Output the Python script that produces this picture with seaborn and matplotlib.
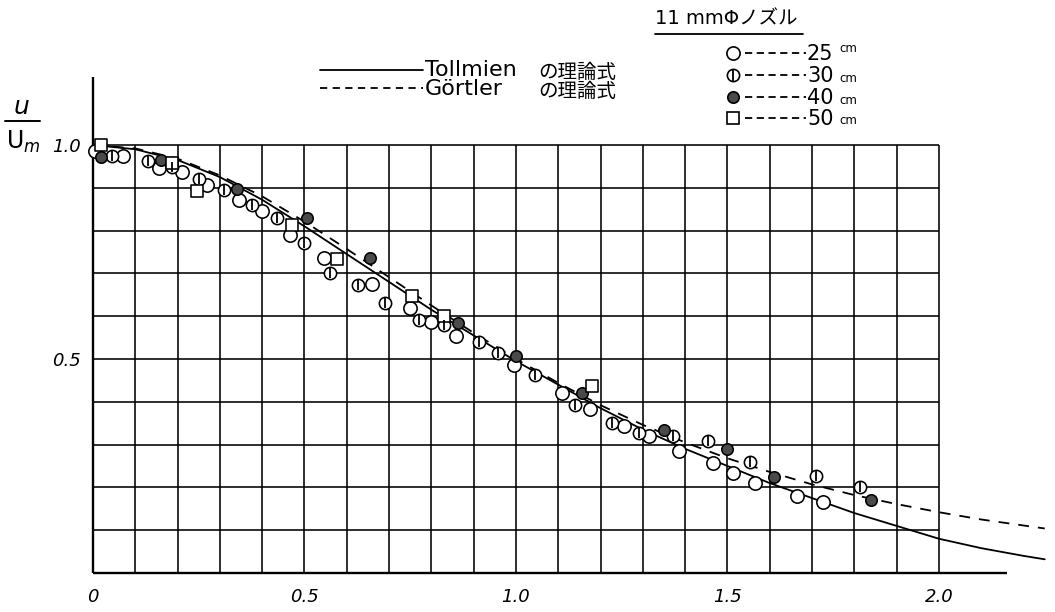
import matplotlib
matplotlib.use("Agg")
import numpy as np
import pandas as pd
import matplotlib.pyplot as plt
from matplotlib.lines import Line2D
import seaborn as sns

# Theoretical velocity profiles u/Um against r / r_half
curve_x = [0.0, 0.1, 0.2, 0.3, 0.4, 0.5, 0.6, 0.7, 0.8, 0.9, 1.0, 1.1, 1.2,
           1.3, 1.4, 1.5, 1.6, 1.7, 1.8, 1.9, 2.0, 2.1, 2.2, 2.25]
tollmien_y = [1.0, 0.99, 0.965, 0.925, 0.872, 0.81, 0.745, 0.68, 0.615, 0.555,
              0.495, 0.44, 0.385, 0.335, 0.29, 0.25, 0.21, 0.175, 0.14, 0.11,
              0.08, 0.058, 0.04, 0.032]
goertler_y = [1.0, 0.992, 0.968, 0.929, 0.88, 0.821, 0.757, 0.691, 0.625, 0.561,
              0.5, 0.444, 0.392, 0.346, 0.305, 0.268, 0.236, 0.207, 0.182, 0.161,
              0.142, 0.125, 0.111, 0.104]

# Measured points, 11 mm nozzle, by distance from the nozzle exit
x_25cm = [0.005, 0.07, 0.156, 0.21, 0.27, 0.345, 0.40, 0.466, 0.545, 0.66, 0.75,
          0.80, 0.858, 0.995, 1.108, 1.175, 1.255, 1.315, 1.385, 1.466, 1.513,
          1.565, 1.664, 1.726]
y_25cm = [0.986, 0.975, 0.946, 0.937, 0.906, 0.871, 0.846, 0.79, 0.737, 0.676,
          0.62, 0.587, 0.553, 0.487, 0.42, 0.383, 0.343, 0.32, 0.286, 0.257,
          0.233, 0.21, 0.18, 0.165]

x_30cm = [0.045, 0.13, 0.187, 0.25, 0.31, 0.375, 0.435, 0.50, 0.56, 0.626, 0.69,
          0.77, 0.83, 0.913, 0.957, 1.045, 1.14, 1.227, 1.29, 1.37, 1.454,
          1.553, 1.71, 1.813]
y_30cm = [0.975, 0.963, 0.949, 0.92, 0.895, 0.86, 0.83, 0.77, 0.70, 0.672, 0.63,
          0.59, 0.58, 0.54, 0.515, 0.462, 0.392, 0.35, 0.327, 0.32, 0.309,
          0.26, 0.226, 0.20]

x_40cm = [0.02, 0.16, 0.34, 0.505, 0.655, 0.863, 1.0, 1.156, 1.35, 1.50, 1.61, 1.84]
y_40cm = [0.972, 0.965, 0.897, 0.83, 0.737, 0.585, 0.508, 0.42, 0.333, 0.29,
          0.225, 0.17]

x_50cm = [0.02, 0.187, 0.245, 0.47, 0.577, 0.754, 0.83, 1.18]
y_50cm = [1.0, 0.958, 0.893, 0.813, 0.733, 0.647, 0.60, 0.437]

x_ticks = [0.0, 0.5, 1.0, 1.5, 2.0]
x_tick_labels = ["0", "0.5", "1.0", "1.5", "2.0"]
y_ticks = [0.5, 1.0]
y_tick_labels = ["0.5", "1.0"]

legend_labels = ["25", "30", "40", "50"]

sns.set_theme(style="white")
plt.rcParams["font.family"] = ["DejaVu Sans", "Noto Sans CJK JP"]
plt.rcParams["text.color"] = "black"

W, H = 1055, 612
fig = plt.figure(figsize=(W / 100, H / 100), dpi=100)
fig.patch.set_facecolor("white")

# axes placed so that one unit of r/r_half is ~423 px and of u/Um ~428 px
x_max, y_max = 2.275, 1.2
ax = fig.add_axes([93 / W, 39 / H, x_max * 423 / W, y_max * 428 / H])
ax.set_xlim(0, x_max)
ax.set_ylim(0, y_max)
ax.set_facecolor("white")
for sp in ax.spines.values():
    sp.set_visible(False)

# graph-paper grid
ax.vlines(np.arange(0.1, 2.001, 0.1), 0, 1.0, color="black", lw=1.15, zorder=1)
ax.hlines(np.arange(0.1, 1.001, 0.1), 0, 2.0, color="black", lw=1.15, zorder=1)
ax.vlines(0, 0, 1.16, color="black", lw=1.7, zorder=2, clip_on=False)
ax.hlines(0, 0, 2.16, color="black", lw=1.7, zorder=2, clip_on=False)

# theory curves
curves = pd.DataFrame({"x": curve_x, "tollmien": tollmien_y, "goertler": goertler_y})
sns.lineplot(data=curves, x="x", y="tollmien", ax=ax, color="black", lw=1.3,
             estimator=None, zorder=3)
sns.lineplot(data=curves, x="x", y="goertler", ax=ax, color="black", lw=1.3,
             estimator=None, linestyle=(0, (6, 5)), zorder=3)

# measurements
common = dict(ax=ax, edgecolor="black", linewidth=1.15, clip_on=False, zorder=5,
              legend=False)
sns.scatterplot(x=x_25cm, y=y_25cm, marker="o", s=92, color="white", **common)
sns.scatterplot(x=x_30cm, y=y_30cm, marker="o", s=78, color="white", **common)
sns.scatterplot(x=x_30cm, y=y_30cm, marker="|", s=62, color="black", ax=ax,
                linewidth=1.3, clip_on=False, zorder=6, legend=False)
sns.scatterplot(x=x_40cm, y=y_40cm, marker="o", s=68, color="#4a4a4a", **common)
sns.scatterplot(x=x_50cm, y=y_50cm, marker="s", s=72, color="white", **common)

ax.set_xticks(x_ticks)
ax.set_xticklabels(x_tick_labels, fontsize=13, color="black", style="italic")
ax.set_yticks(y_ticks)
ax.set_yticklabels(y_tick_labels, fontsize=13, color="black", style="italic")
ax.tick_params(axis="both", length=0, colors="black")
ax.tick_params(axis="x", pad=11)
ax.tick_params(axis="y", pad=9)
ax.set_xlabel("")
ax.set_ylabel("")


def fx(px):
    return px / W


def fy(py):
    return 1 - py / H


# u / Um axis title
fig.text(fx(22), fy(107), "u", fontsize=18, ha="center", va="center", style="italic")
fig.add_artist(Line2D([fx(5), fx(40)], [fy(121), fy(121)], color="black", lw=1.4))
fig.text(fx(6), fy(142), r"U$_m$", fontsize=17, ha="left", va="center")

# theory key
fig.add_artist(Line2D([fx(320), fx(423)], [fy(70), fy(70)], color="black", lw=1.3))
fig.add_artist(Line2D([fx(320), fx(423)], [fy(88), fy(88)], color="black", lw=1.3,
                      linestyle=(0, (4, 3))))
fig.text(fx(425), fy(70), "Tollmien", fontsize=16, ha="left", va="center")
fig.text(fx(538), fy(72), "の理論式", fontsize=14, ha="left", va="center")
fig.text(fx(425), fy(89), "Görtler", fontsize=16, ha="left", va="center")
fig.text(fx(538), fy(91), "の理論式", fontsize=14, ha="left", va="center")

# measurement key
fig.text(fx(655), fy(19), "11 mmΦノズル", fontsize=14, ha="left", va="center")
fig.add_artist(Line2D([fx(655), fx(803)], [fy(34), fy(34)], color="black", lw=1.3))

key_y = [53, 75, 97, 118]
key_style = [
    dict(marker="o", ms=9.5, mfc="white", mec="black"),
    dict(marker="o", ms=8.8, mfc="white", mec="black"),
    dict(marker="o", ms=8.2, mfc="#4a4a4a", mec="black"),
    dict(marker="s", ms=8.0, mfc="white", mec="black"),
]
for yy, st, lab in zip(key_y, key_style, legend_labels):
    fig.add_artist(Line2D([fx(733)], [fy(yy)], lw=0, mew=1.2, **st))
    if lab == "30":
        fig.add_artist(Line2D([fx(733)], [fy(yy)], lw=0, marker="|", ms=8,
                              mec="black", mew=1.3))
    fig.add_artist(Line2D([fx(745), fx(806)], [fy(yy), fy(yy)], color="black",
                          lw=1.3, linestyle=(0, (4, 2.5))))
    fig.text(fx(807), fy(yy + 1), lab, fontsize=15, ha="left", va="center")
    cm_dy = -4 if lab == "25" else 3
    fig.text(fx(839), fy(yy + cm_dy), "cm", fontsize=8.5, ha="left", va="center")

fig.savefig("out.png", dpi=100, facecolor="white")
